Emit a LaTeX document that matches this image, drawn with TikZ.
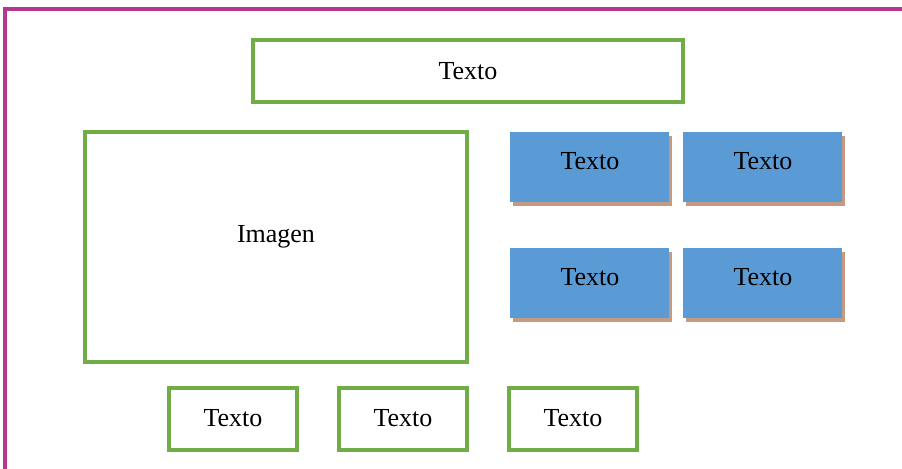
\documentclass[tikz,border=0pt]{standalone}
\usepackage{fontspec}
\setmainfont{Liberation Serif}
\definecolor{framemag}{HTML}{B5378F}
\definecolor{boxgreen}{HTML}{70AD47}
\definecolor{boxblue}{HTML}{5B9BD5}
\definecolor{shadowtan}{HTML}{C49A82}
\begin{document}
\begin{tikzpicture}[x=0.75pt,y=-0.75pt,
  every node/.style={font=\fontsize{19.5}{23}\selectfont, inner sep=0pt},
  greenbox/.style={draw=boxgreen, line width=2.6pt, fill=white}]
\useasboundingbox (0,0) rectangle (902,468);
\begin{scope}
\clip (0,0) rectangle (902,468);
% page frame
\draw[framemag, line width=2.6pt] (5,475) -- (5,9) -- (910,9);
\end{scope}
% top title box
\draw[greenbox] (253,40) rectangle (683,102);
\node (title) at (468,71) {Texto};
% picture area
\draw[greenbox] (85,132) rectangle (467,362);
\node (img) at (276,237) {Imagen};
% blue boxes with shadow
\foreach \bx/\by/\nm in {510/132/b1, 683/132/b2, 510/248/b3, 683/248/b4}{
  \fill[shadowtan] (\bx+3,\by+4) rectangle (\bx+162,\by+74);
  \fill[boxblue] (\bx,\by) rectangle (\bx+159,\by+70);
  \node (\nm) at (\bx+80,\by+29) {Texto};
}
% bottom boxes
\foreach \bx/\nm in {169/c1, 339/c2, 509/c3}{
  \draw[greenbox] (\bx,388) rectangle (\bx+128,450);
  \node (\nm) at (\bx+64,418) {Texto};
}
\end{tikzpicture}
\end{document}
